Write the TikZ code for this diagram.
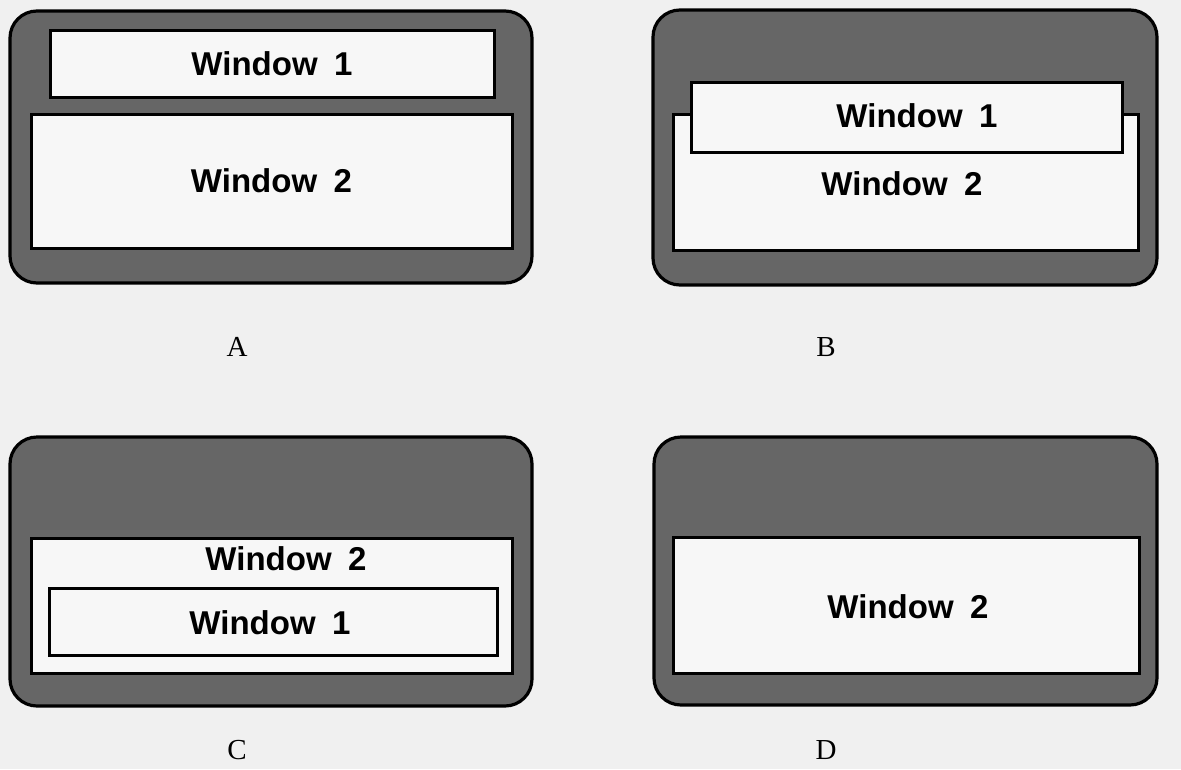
\documentclass[tikz,border=0pt]{standalone}
\usepackage{fontspec}
\setmainfont{Liberation Serif}
\newfontfamily\winfont{Liberation Sans}
\usepackage{tikz}

\begin{document}
\begin{tikzpicture}[
    x=1pt, y=-1pt,
    screen/.style={draw, line width=3.2pt, rounded corners=27pt, fill=black!60, inner sep=0pt},
    win/.style={draw, line width=3pt, fill=black!3, inner sep=0pt},
    wtext/.style={font=\winfont\bfseries\fontsize{33}{36}\selectfont, inner sep=0pt},
    caption/.style={font=\fontsize{29}{32}\selectfont, inner sep=0pt}
]
\fill[black!6] (0,0) rectangle (1181,769);
\useasboundingbox (0,0) rectangle (1181,769);

% A
\node[screen, minimum width=522pt, minimum height=272pt] (scrA) at (271,147) {};
\node[win, minimum width=444pt, minimum height=67pt] (a1) at (272,63.5) {};
\node[win, minimum width=481pt, minimum height=134pt] (a2) at (271.5,181) {};
\node[wtext] (a1t) at (a1) {Window\hspace{0.5em}1};
\node[wtext] (a2t) at (a2) {Window\hspace{0.5em}2};
\node[caption] (capA) at (237,347) {A};

% B
\node[screen, minimum width=504pt, minimum height=275pt] (scrB) at (905,147.5) {};
\node[win, minimum width=465pt, minimum height=136pt] (b2) at (905.5,182) {};
\node[win, minimum width=431pt, minimum height=70pt] (b1) at (906.5,117) {};
\node[wtext] (b1t) at (917,116) {Window\hspace{0.5em}1};
\node[wtext] (b2t) at (902,184) {Window\hspace{0.5em}2};
\node[caption] (capB) at (826,347) {B};

% C
\node[screen, minimum width=522pt, minimum height=269pt] (scrC) at (271,571.5) {};
\node[win, minimum width=481pt, minimum height=135pt] (c2) at (271.5,605.5) {};
\node[win, minimum width=448pt, minimum height=67pt] (c1) at (273,621.5) {};
\node[wtext] (c2t) at (286,559) {Window\hspace{0.5em}2};
\node[wtext] (c1t) at (270,623) {Window\hspace{0.5em}1};
\node[caption] (capC) at (237,750) {C};

% D
\node[screen, minimum width=503pt, minimum height=268pt] (scrD) at (905.5,571) {};
\node[win, minimum width=466pt, minimum height=136pt] (d2) at (906,605) {};
\node[wtext] (d2t) at (908,607) {Window\hspace{0.5em}2};
\node[caption] (capD) at (826,750) {D};
\end{tikzpicture}
\end{document}
